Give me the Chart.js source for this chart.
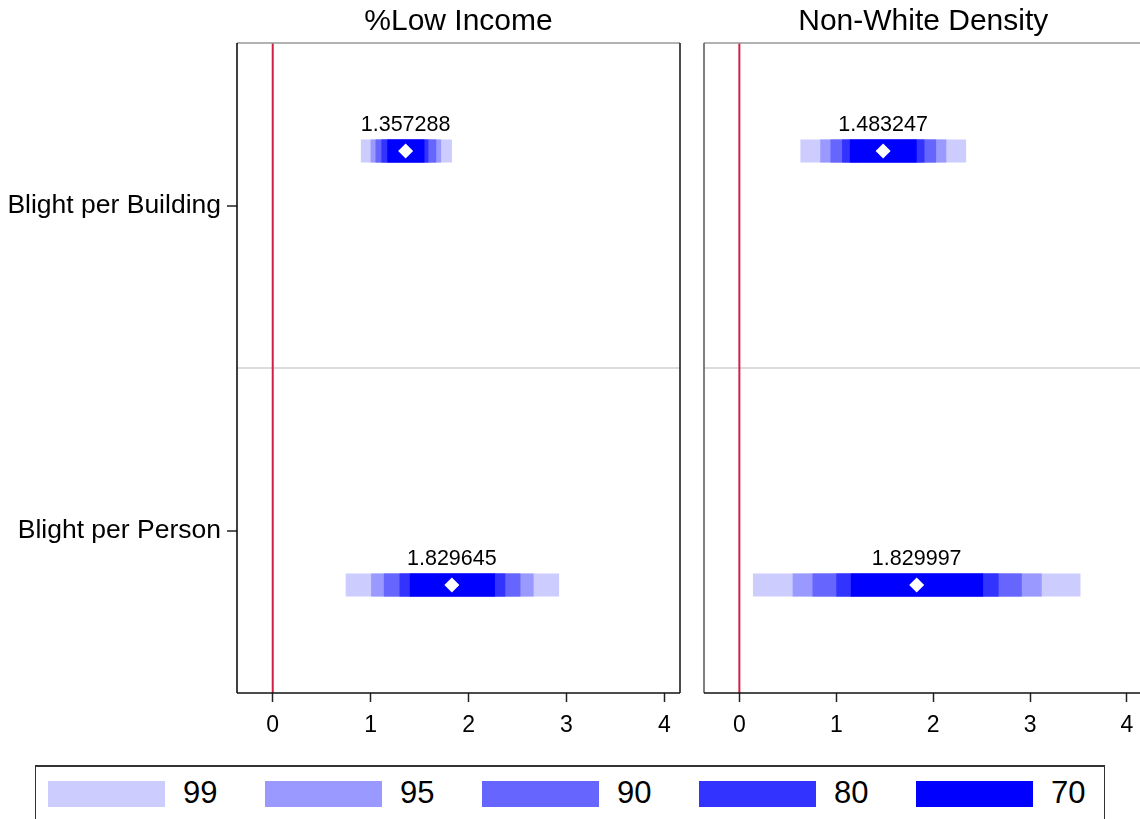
<!DOCTYPE html>
<html>
<head>
<meta charset="utf-8">
<script src="https://cdn.jsdelivr.net/npm/chart.js@4.4.0/dist/chart.umd.min.js"></script>
<style>
  html, body { margin: 0; padding: 0; background: #fff; }
  body { width: 1140px; height: 819px; overflow: hidden; position: relative; font-family: 'Liberation Sans', Arial, sans-serif; }
  #left { position: absolute; left: 0; top: 0; }
  #right { position: absolute; left: 690px; top: 0; }
  .legend { position: absolute; left: 35px; top: 765px; width: 1070px; height: 70px; border: 1px solid #333; border-top-width: 2px; box-sizing: border-box; }
  .item { position: absolute; top: 14px; }
  .sw { position: absolute; left: 0; top: 0; width: 117px; height: 26px; }
  .lbl { position: absolute; left: 135px; top: -6px; font-size: 31px; line-height: 36px; color: #000; }
</style>
</head>
<body>
<canvas id="left" width="690" height="750"></canvas>
<canvas id="right" width="460" height="750"></canvas>
<div class="legend" id="legend"></div>
<script>
const panels = ['%Low Income', 'Non-White Density'];
const outcomes = ['Blight per Building', 'Blight per Person'];
const levels = ['99', '95', '90', '80', '70'];
const levelColors = ['#ccccff', '#9999ff', '#6666ff', '#3333ff', '#0000ff'];
const rowPos = [0.332, 1.668];

// point estimates, [building, person]
const estLowIncome = [1.357288, 1.829645];
const estNonWhite = [1.483247, 1.829997];

// interval bounds, one [lo, hi] per level (99, 95, 90, 80, 70)
const lowIncomeBuilding = [[0.90, 1.83], [1.00, 1.72], [1.05, 1.67], [1.11, 1.59], [1.17, 1.55]];
const lowIncomePerson   = [[0.745, 2.925], [1.005, 2.665], [1.135, 2.53], [1.295, 2.375], [1.40, 2.27]];
const nonWhiteBuilding  = [[0.63, 2.34], [0.835, 2.135], [0.94, 2.03], [1.06, 1.91], [1.14, 1.83]];
const nonWhitePerson    = [[0.14, 3.52], [0.55, 3.12], [0.755, 2.915], [1.0, 2.675], [1.15, 2.515]];

const xTicks = [0, 1, 2, 3, 4];
const FONT = "'Liberation Sans', Arial, sans-serif";

const estLabels = {
    id: 'estLabels',
    afterDatasetsDraw(chart, args, opts) {
        const ctx = chart.ctx;
        const xs = chart.scales.x, ys = chart.scales.y, a = chart.chartArea;
        ctx.save();
        ctx.fillStyle = '#000';
        ctx.textAlign = 'center';
        ctx.textBaseline = 'middle';
        ctx.font = '21.5px ' + FONT;
        opts.values.forEach((v, i) => {
            ctx.fillText(String(v), xs.getPixelForValue(v), ys.getPixelForValue(rowPos[i]) - 26);
        });
        // panel title over the plot area
        ctx.font = '30px ' + FONT;
        ctx.fillText(opts.title, (a.left + a.right) / 2, 22);
        ctx.restore();
    }
};

const frame = {
    id: 'frame',
    afterDraw(chart, args, opts) {
        const a = chart.chartArea, ctx = chart.ctx;
        ctx.save();
        ctx.lineWidth = 1.5;
        const seg = (x1, y1, x2, y2, c) => {
            ctx.strokeStyle = c;
            ctx.beginPath(); ctx.moveTo(x1, y1); ctx.lineTo(x2, y2); ctx.stroke();
        };
        seg(a.left, a.top, a.right, a.top, '#999');
        seg(a.left, a.top, a.left, a.bottom, opts.leftColor);
        seg(a.right, a.top, a.right, a.bottom, '#111');
        seg(a.left, a.bottom, a.right, a.bottom, '#111');
        ctx.restore();
    }
};

function buildDatasets(est, rows) {
    const ds = [{
        data: [{x: 0, y: 0}, {x: 0, y: 2}],
        borderColor: '#d0204a', borderWidth: 2, pointRadius: 0
    }];
    levels.forEach((lv, i) => {
        rows.forEach((r, j) => {
            ds.push({
                label: lv,
                data: [{x: r[i][0], y: rowPos[j]}, {x: r[i][1], y: rowPos[j]}],
                borderColor: levelColors[i], borderWidth: 23, borderCapStyle: 'butt',
                pointRadius: 0
            });
        });
    });
    ds.push({
        data: est.map((v, j) => ({x: v, y: rowPos[j]})),
        showLine: false, pointStyle: 'rectRot', pointRadius: 7.5,
        pointBackgroundColor: '#fff', pointBorderColor: '#fff', pointBorderWidth: 0
    });
    // chart.js paints the last dataset first
    return ds.reverse();
}

function makeChart(id, title, est, rows, showLabels) {
    return new Chart(document.getElementById(id), {
        type: 'line',
        data: { datasets: buildDatasets(est, rows) },
        plugins: [estLabels, frame],
        options: {
            responsive: false,
            devicePixelRatio: 1,
            animation: false,
            events: [],
            layout: { padding: { left: 0, right: showLabels ? 10 : 3, top: 43, bottom: 0 } },
            plugins: {
                legend: { display: false },
                tooltip: { enabled: false },
                title: { display: false },
                estLabels: { values: est, title: title },
                frame: { leftColor: showLabels ? '#000' : '#555' }
            },
            scales: {
                x: {
                    type: 'linear', min: -0.365, max: 4.16,
                    afterBuildTicks: s => { s.ticks = xTicks.map(v => ({value: v})); },
                    afterFit: s => { s.height = 57; },
                    grid: { color: 'rgba(0,0,0,0)', tickColor: '#222', tickLength: 9, tickWidth: 1.5 },
                    border: { display: false },
                    ticks: { color: '#000', padding: 10, font: { family: FONT, size: 23 } }
                },
                y: {
                    type: 'linear', min: 0, max: 2, reverse: true,
                    afterBuildTicks: s => { s.ticks = [0.5, 1, 1.5].map(v => ({value: v})); },
                    afterFit: s => { s.width = showLabels ? 237 : 14; },
                    grid: {
                        lineWidth: 2, tickLength: 10, tickWidth: 1.5,
                        color: c => c.tick && c.tick.value === 1 ? '#dcdcdc' : 'rgba(0,0,0,0)',
                        tickColor: c => (showLabels && c.tick && c.tick.value !== 1) ? '#222' : 'rgba(0,0,0,0)'
                    },
                    border: { display: false },
                    ticks: {
                        display: showLabels, color: '#000', padding: 6,
                        font: { family: FONT, size: 26.5 },
                        callback: v => v === 0.5 ? outcomes[0] : (v === 1.5 ? outcomes[1] : '')
                    }
                }
            }
        }
    });
}

makeChart('left', panels[0], estLowIncome, [lowIncomeBuilding, lowIncomePerson], true);
makeChart('right', panels[1], estNonWhite, [nonWhiteBuilding, nonWhitePerson], false);

const legend = document.getElementById('legend');
levels.forEach((lv, i) => {
    const it = document.createElement('div');
    it.className = 'item';
    it.style.left = (12 + i * 217) + 'px';
    it.innerHTML = '<div class="sw" style="background:' + levelColors[i] + '"></div><div class="lbl">' + lv + '</div>';
    legend.appendChild(it);
});
</script>
</body>
</html>
